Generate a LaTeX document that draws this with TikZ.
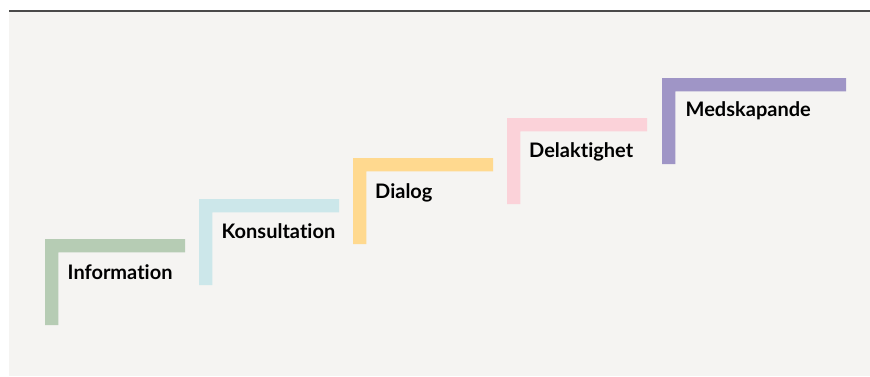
\documentclass[tikz,border=0pt]{standalone}
\usepackage{fontspec}
\setmainfont[Ligatures=NoCommon]{Lato}
\definecolor{bgc}{HTML}{F5F4F2}
\definecolor{linec}{HTML}{4A4A4A}
\definecolor{cgreen}{HTML}{B6CCB4}
\definecolor{cblue}{HTML}{CCE7EA}
\definecolor{cyellow}{HTML}{FFD98F}
\definecolor{cpink}{HTML}{FBD2D9}
\definecolor{cpurple}{HTML}{9F95C6}
\begin{document}
\begin{tikzpicture}[x=1pt,y=-1pt,
  lbl/.style={anchor=base west,inner sep=0pt,font=\fontsize{20}{24}\selectfont\bfseries,text=black}]
\useasboundingbox (0,0) rectangle (870,376);
\fill[bgc] (9,12) rectangle (870,376);
\fill[linec] (9,10) rectangle (870,12.3);
% steps: x0, ytop, xright, ybottom
\newcommand{\stepL}[5]{\fill[#5] (#1,#2) -- (#3,#2) -- (#3,#2+13.3) -- (#1+13.3,#2+13.3) -- (#1+13.3,#4) -- (#1,#4) -- cycle;}
\stepL{45}{239}{185}{325}{cgreen}
\stepL{199}{199}{339}{285}{cblue}
\stepL{353}{158}{493}{244}{cyellow}
\stepL{507}{118}{647}{204}{cpink}
\stepL{662}{78}{846}{164}{cpurple}
\node[lbl] (t1) at (67.5,279) {Information};
\node[lbl] (t2) at (221.5,238) {Konsultation};
\node[lbl] (t3) at (375,198) {Dialog};
\node[lbl] (t4) at (529,157) {Delaktighet};
\node[lbl] (t5) at (685.5,116) {Medskapande};
\end{tikzpicture}
\end{document}
